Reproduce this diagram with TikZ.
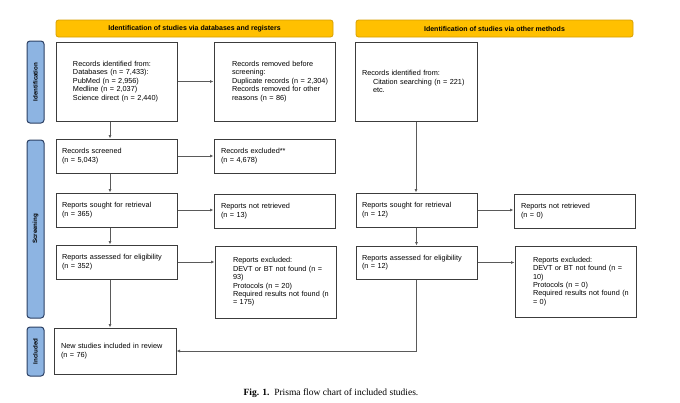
\documentclass[tikz,border=0pt]{standalone}
\usepackage{fontspec}
\setmainfont{Liberation Sans}
\newfontfamily\capfont{Liberation Serif}
\usetikzlibrary{arrows.meta}
\definecolor{hdrfill}{RGB}{255,192,0}
\definecolor{hdrdraw}{RGB}{214,158,0}
\definecolor{sidefill}{RGB}{141,180,226}
\definecolor{sidedraw}{RGB}{44,64,100}
\definecolor{boxdraw}{RGB}{60,60,60}
\definecolor{linec}{RGB}{90,90,90}
\begin{document}
\begin{tikzpicture}[x=1pt,y=-1pt,
  pbox/.style={draw=boxdraw, line width=1pt, inner sep=0pt, align=left, font=\fontsize{7.3}{8.4}\selectfont},
  lm/.style={execute at begin node={\leftskip=#1pt}},
  hdr/.style={draw=hdrdraw, fill=hdrfill, rounded corners=2.5pt, line width=0.8pt, minimum width=277pt, minimum height=17pt, inner sep=0pt, font=\fontsize{7}{8}\bfseries\selectfont},
  side/.style={draw=sidedraw, fill=sidefill, rounded corners=3pt, line width=1pt, minimum height=17pt, inner sep=0pt, font=\fontsize{6.2}{7}\bfseries\selectfont, rotate=90},
  arr/.style={draw=linec, line width=0.8pt, -{Latex[length=3.5pt,width=3pt]}}
]
\useasboundingbox (0,0) rectangle (680,402);

% headers
\node[hdr] (h1) at (194.5,28.5) {Identification of studies via databases and registers};
\node[hdr] (h2) at (494.5,28.5) {Identification of studies via other methods};

% side bars
\node[side, minimum width=82pt] (s1) at (35.5,82) {Identification};
\node[side, minimum width=178pt] (s2) at (35.5,229) {Screening};
\node[side, minimum width=49pt] (s3) at (35.5,351.5) {Included};

% left column
\node[pbox, lm=17, text width=121pt, minimum height=79pt] (id1) at (116.5,81.5)
  {Records identified from:\\Databases (n = 7,433):\\PubMed (n = 2,956)\\Medline (n = 2,037)\\Science direct (n = 2,440)};
\node[pbox, lm=18, text width=121pt, minimum height=79pt] (rem) at (274.5,81.5)
  {Records removed before\\screening:\\Duplicate records (n = 2,304)\\Records removed for other\\reasons (n = 86)};
\node[pbox, lm=6, text width=121pt, minimum height=34pt] (scr) at (116.5,156)
  {Records screened\\(n = 5,043)};
\node[pbox, lm=7, text width=121pt, minimum height=34pt] (exc) at (274.5,156)
  {Records excluded**\\(n = 4,678)};
\node[pbox, lm=6, text width=121pt, minimum height=34pt] (sou) at (116.5,210)
  {Reports sought for retrieval\\(n = 365)};
\node[pbox, lm=7, text width=121pt, minimum height=34pt] (nre) at (274.5,211)
  {Reports not retrieved\\(n = 13)};
\node[pbox, lm=6, text width=121pt, minimum height=34pt] (ass) at (116.5,262)
  {Reports assessed for eligibility\\(n = 352)};
\node[pbox, lm=18, text width=121pt, minimum height=72pt] (rex) at (275.5,282)
  {Reports excluded:\\DEVT or BT not found (n =\\93)\\Protocols (n = 20)\\Required results not found (n\\= 175)};
\node[pbox, lm=7, text width=122pt, minimum height=46pt] (new) at (115,351)
  {New studies included in review\\(n = 76)};

% right column
\node[pbox, lm=7, text width=122pt, minimum height=79pt] (id2) at (416,81.5)
  {Records identified from:\\\hspace*{11pt}Citation searching (n = 221)\\\hspace*{11pt}etc.};
\node[pbox, lm=6, text width=121pt, minimum height=34pt] (rsou) at (416.5,210)
  {Reports sought for retrieval\\(n = 12)};
\node[pbox, lm=7, text width=121pt, minimum height=34pt] (rnre) at (574.5,211)
  {Reports not retrieved\\(n = 0)};
\node[pbox, lm=6, text width=121pt, minimum height=33pt] (rass) at (416.5,262.5)
  {Reports assessed for eligibility\\(n = 12)};
\node[pbox, lm=18, text width=121pt, minimum height=71pt] (rrex) at (575.5,281.5)
  {Reports excluded:\\DEVT or BT not found (n =\\10)\\Protocols (n = 0)\\Required results not found (n\\= 0)};

% caption
\node[font=\capfont\fontsize{9.5}{11}\selectfont, inner sep=0pt] (cap) at (331,393)
  {\textbf{Fig. 1.}\enspace Prisma flow chart of included studies.};

% connectors
\coordinate (lc) at (110,0);
\draw[arr] (id1.south -| lc) -- (scr.north -| lc);
\draw[arr] (scr.south -| lc) -- (sou.north -| lc);
\draw[arr] (sou.south -| lc) -- (ass.north -| lc);
\draw[arr] (ass.south -| lc) -- (new.north -| lc);
\draw[arr] (id1.east) -- (rem.west);
\draw[arr] (scr.east) -- (exc.west);
\draw[arr] (sou.east) -- (sou.east -| nre.west);
\draw[arr] (ass.east) -- (ass.east -| rex.west);
\draw[arr] (id2.south) -- (id2.south |- rsou.north);
\draw[arr] (rsou.south) -- (rass.north);
\draw[arr] (rsou.east) -- (rsou.east -| rnre.west);
\draw[arr] (rass.east) -- (rass.east -| rrex.west);
\draw[arr] (rass.south) |- (new.east);
\end{tikzpicture}
\end{document}
